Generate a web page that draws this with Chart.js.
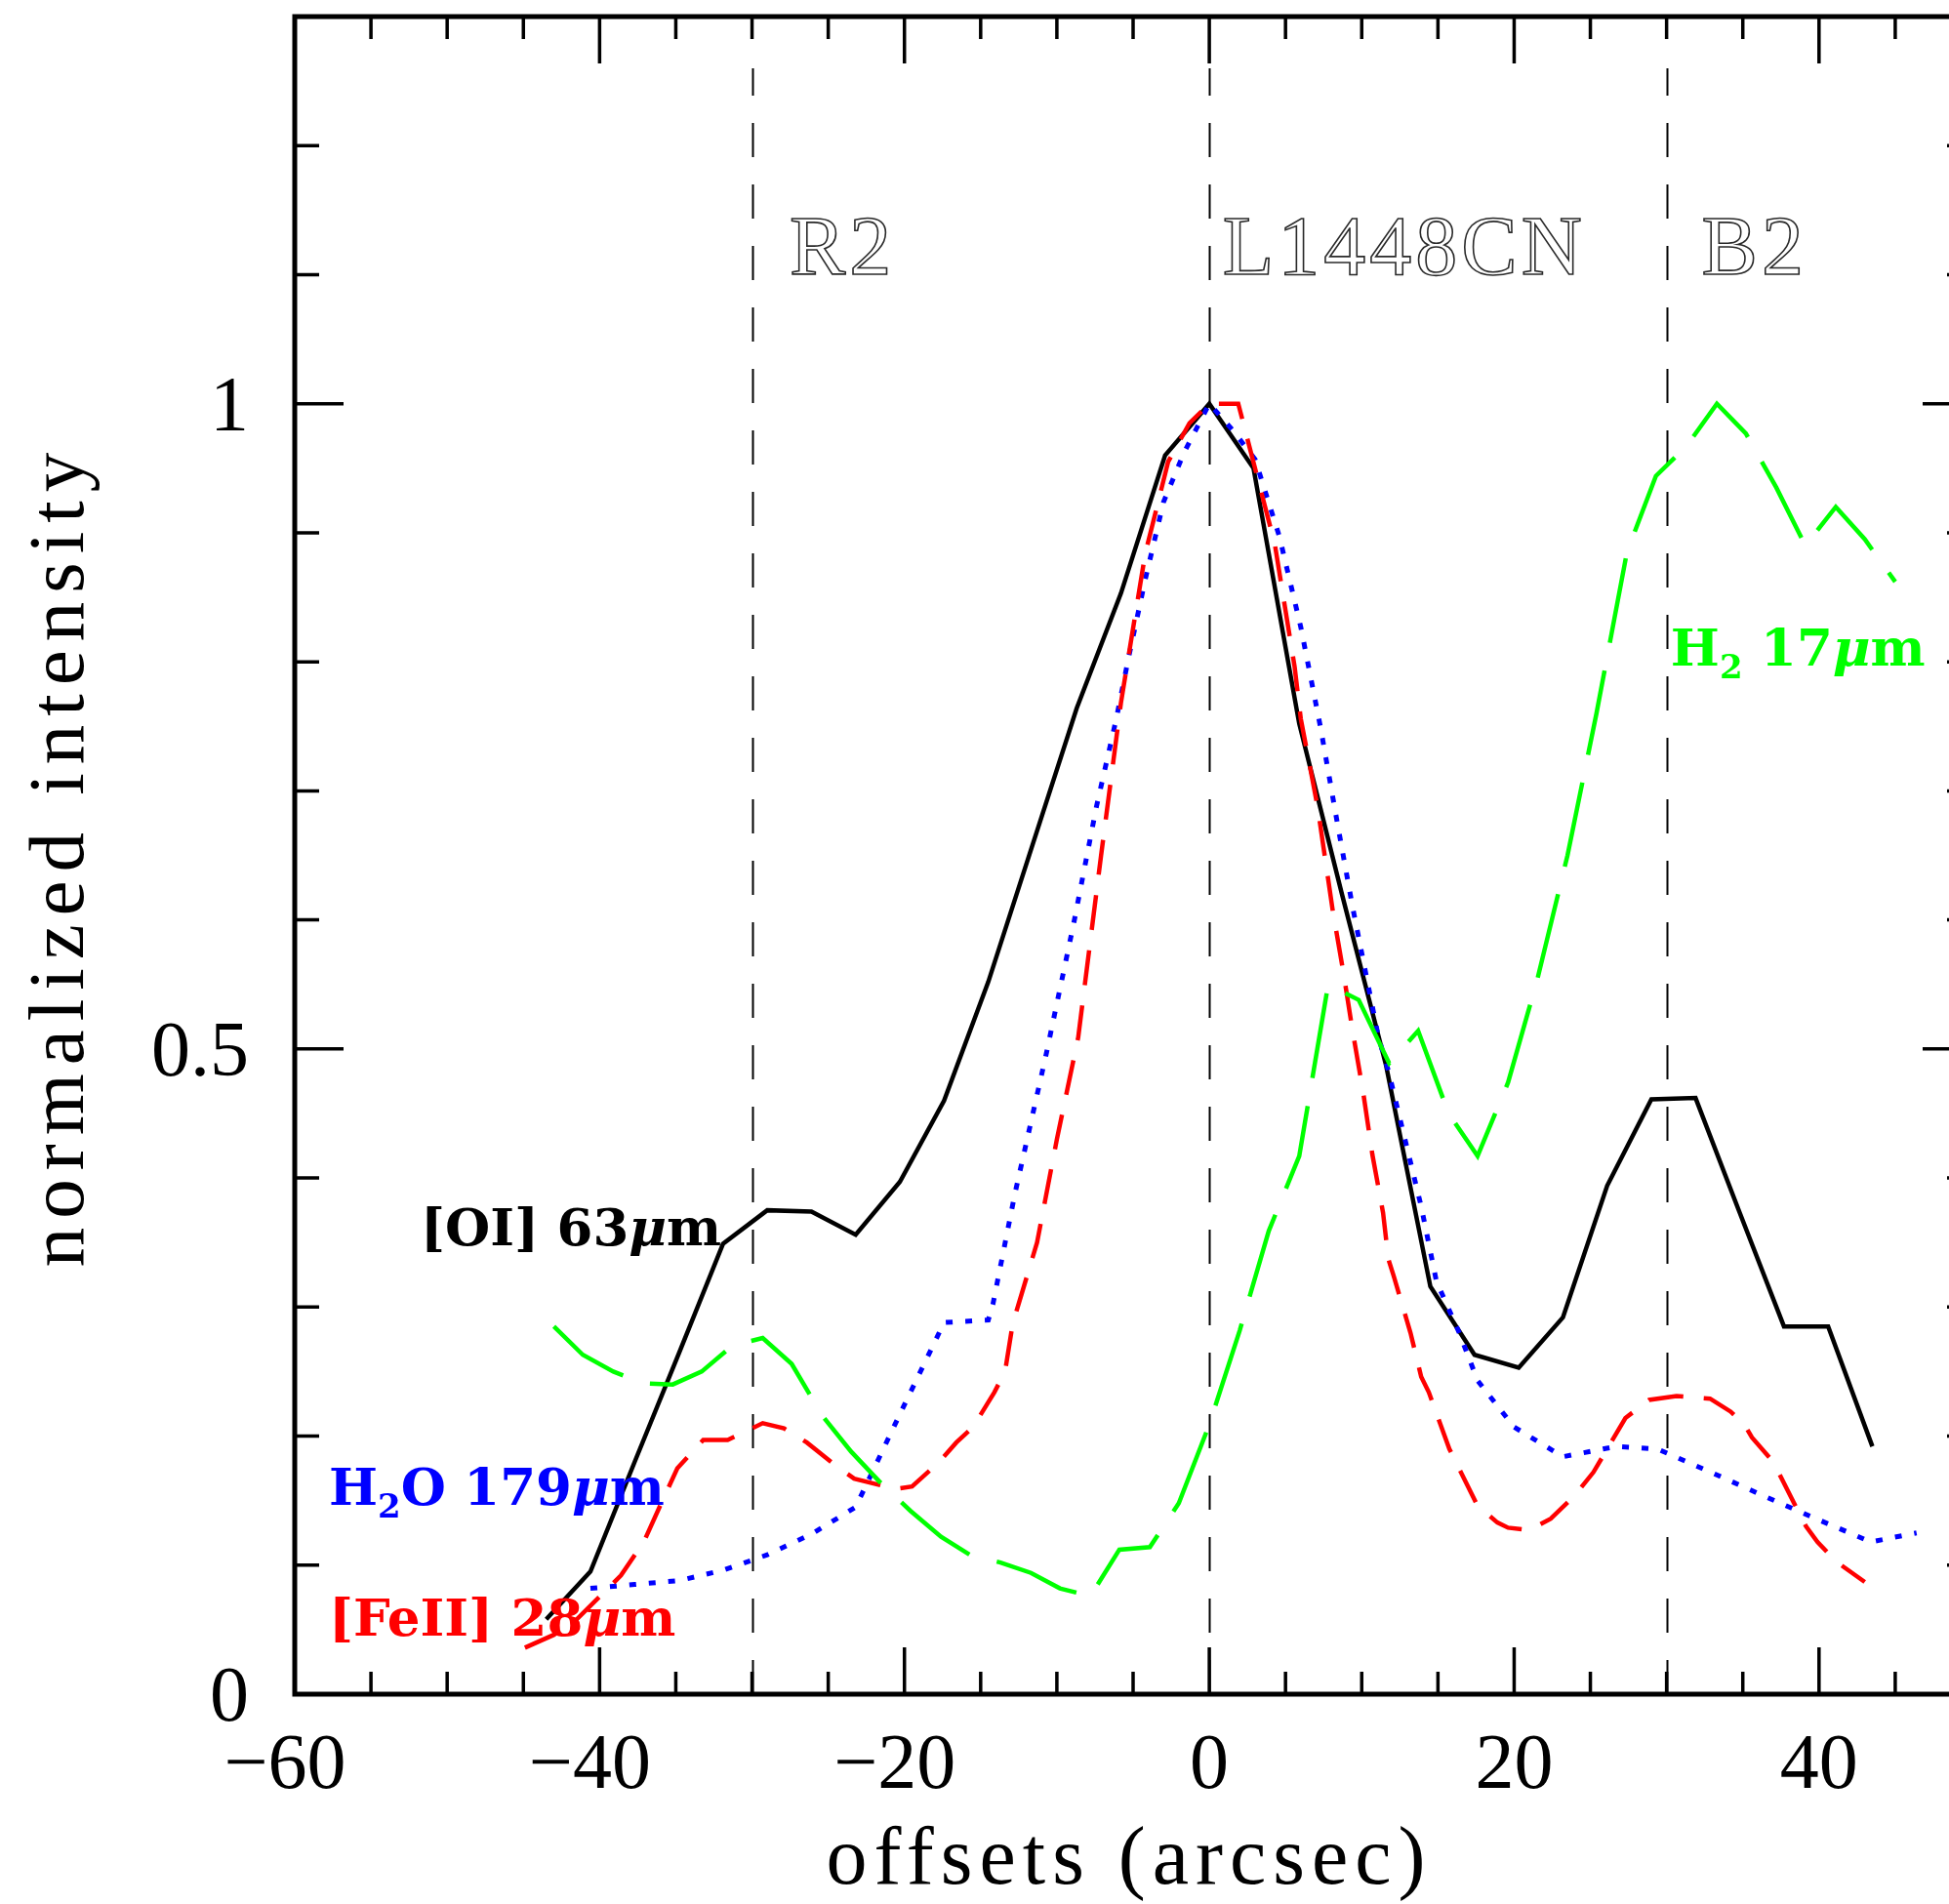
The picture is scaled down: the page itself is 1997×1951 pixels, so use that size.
<!DOCTYPE html>
<html>
<head>
<meta charset="utf-8">
<title>Normalized line intensity along the L1448 outflow</title>
<script src="https://cdn.jsdelivr.net/npm/chart.js@4.4.1/dist/chart.umd.min.js"></script>
<style>
  html, body { margin: 0; padding: 0; background: #fff; overflow: hidden; }
  #wrap { width: 2060px; height: 1951px; }
</style>
</head>
<body>
<div id="wrap"><canvas id="profile" width="2060" height="1951"></canvas></div>
<script>
(function () {
  'use strict';

  // [OI] 63um, solid black
  var oiX = [-43.5, -40.6, -37.7, -34.8, -31.9, -29.0, -26.1, -23.2, -20.3, -17.4, -14.5, -11.6, -8.7, -5.8, -2.9, 0,
             2.9, 5.9, 8.7, 11.6, 14.5, 17.4, 20.3, 23.2, 26.1, 29.0, 31.9, 34.8, 37.7, 40.6, 43.5];
  var oiY = [0.058, 0.095, 0.180, 0.264, 0.349, 0.375, 0.374, 0.356, 0.397, 0.460, 0.552, 0.658, 0.764, 0.853, 0.960, 1.0,
             0.950, 0.752, 0.620, 0.487, 0.316, 0.263, 0.253, 0.292, 0.394, 0.461, 0.462, 0.373, 0.285, 0.285, 0.192];

  // H2O 179um, blue dotted
  var h2oX = [-40.6, -37.7, -34.8, -31.9, -29.0, -26.1, -23.2, -20.3, -17.4, -14.5, -14.2, -12.75, -10.7, -8.9, -7.4,
              -6.1, -5.3, -4.2, -3.0, -1.66, 0, 1.5, 3.0, 4.6, 6.0, 7.3, 8.4, 9.4, 11.1, 11.75, 13.9, 14.9, 16.4,
              17.6, 20.0, 23.2, 26.7, 29.4, 32.9, 36.5, 39.4, 43.4, 46.4];
  var h2oY = [0.082, 0.085, 0.088, 0.096, 0.108, 0.124, 0.145, 0.217, 0.288, 0.290, 0.302, 0.388, 0.496, 0.597, 0.688,
              0.756, 0.803, 0.864, 0.924, 0.962, 1.0, 0.980, 0.957, 0.897, 0.827, 0.749, 0.675, 0.610, 0.509, 0.483, 0.378, 0.320, 0.280,
              0.243, 0.207, 0.184, 0.192, 0.190, 0.172, 0.153, 0.138, 0.118, 0.125];

  // [FeII], red dashed
  var feX = [-44.9, -43.0, -41.5, -38.6, -37.1, -35.8, -34.9, -33.2, -31.6, -29.3, -27.9, -26.4, -24.7, -23.3, -20.6,
             -19.5, -17.8, -16.6, -15.5, -14.1, -13.4, -12.9, -11.3, -10.0, -8.6, -7.1, -5.8, -4.2, -2.7, -1.3, 0,
             1.9, 3.0, 4.3, 5.6, 6.0, 7.1, 8.1, 8.8, 9.4, 10.1, 10.7, 11.4, 11.75, 12.1, 13.2, 13.9, 14.4, 15.75,
             17.6, 18.9, 19.6, 21.0, 22.4, 23.9, 25.2, 26.3, 27.3, 28.85, 30.65, 32.85, 34.2, 35.1, 35.6, 36.85,
             37.3, 38.7, 39.15, 39.9, 41.1, 43.0];
  var feY = [0.036, 0.046, 0.058, 0.092, 0.118, 0.152, 0.175, 0.197, 0.197, 0.210, 0.206, 0.195, 0.179, 0.167, 0.159,
             0.161, 0.179, 0.195, 0.207, 0.234, 0.250, 0.287, 0.350, 0.430, 0.509, 0.650, 0.768, 0.884, 0.955, 0.985, 1.0,
             1.0, 0.950, 0.891, 0.796, 0.756, 0.688, 0.607, 0.559, 0.514, 0.466, 0.418, 0.373, 0.337, 0.324, 0.280, 0.246, 0.234, 0.190,
             0.146, 0.133, 0.129, 0.127, 0.136, 0.153, 0.172, 0.194, 0.214, 0.228, 0.231, 0.229, 0.219, 0.209, 0.199, 0.182,
             0.173, 0.140, 0.130, 0.118, 0.103, 0.087];

  // H2 17um, green long dashes
  var h2X = [-43.0, -41.1, -39.1, -37.2, -35.2, -33.3, -31.3, -29.3, -27.4, -25.4, -23.5, -21.5, -19.6, -17.6, -15.7,
             -13.7, -11.7, -9.8, -7.8, -5.9, -3.9, -2.0, 0.0, 2.0, 3.9, 5.9, 7.8, 9.8, 11.8, 13.7, 15.7, 17.6, 19.6,
             21.5, 23.5, 25.4, 27.4, 29.3, 31.3, 33.3, 35.2, 37.2, 39.1, 41.1, 43.0, 45.0];
  var h2Y = [0.285, 0.263, 0.250, 0.241, 0.240, 0.250, 0.270, 0.276, 0.256, 0.216, 0.188, 0.163, 0.142, 0.122, 0.108,
             0.102, 0.094, 0.082, 0.076, 0.112, 0.114, 0.148, 0.209, 0.282, 0.359, 0.417, 0.550, 0.538, 0.489, 0.514, 0.450, 0.417, 0.474,
             0.553, 0.650, 0.760, 0.885, 0.944, 0.967, 1.0, 0.977, 0.935, 0.890, 0.920, 0.895, 0.862];

  // axes
  var xRange = [-60, 50];
  var yRange = [0, 1.3];
  var xTickValues = [-60, -40, -20, 0, 20, 40];
  var xTickLabels = ['\u221260', '\u221240', '\u221220', '0', '20', '40'];
  var yTickValues = [0, 0.5, 1];
  var yTickLabels = ['0', '0.5', '1'];
  var xMinorStep = 5;
  var yMinorStep = 0.1;

  // knot positions and their names
  var knotX = [-30, 0, 30];
  var knotNames = ['R2', 'L1448CN', 'B2'];
  var knotNameX = [-27.54, 0.88, 32.3];
  var knotNameY = 1.10;

  var LABEL_FONT = '"DejaVu Serif", serif';
  var NUM_FONT = '"Liberation Serif", "DejaVu Serif", serif';

  // curve labels: pieces with style flags (sub = subscript, it = italic)
  var curveLabels = [
    { x: -51.74, y: 0.348, color: '#000000', parts: [{ t: '[OI] 63' }, { t: '\u03bc', it: true }, { t: 'm' }] },
    { x: -57.76, y: 0.1467, color: '#0000ff', parts: [{ t: 'H' }, { t: '2', sub: true }, { t: 'O 179' }, { t: '\u03bc', it: true }, { t: 'm' }] },
    { x: -57.76, y: 0.0454, color: '#ff0000', parts: [{ t: '[FeII] 28' }, { t: '\u03bc', it: true }, { t: 'm' }] },
    { x: 30.27, y: 0.797, color: '#00ff00', parts: [{ t: 'H' }, { t: '2', sub: true }, { t: ' 17' }, { t: '\u03bc', it: true }, { t: 'm' }] }
  ];

  function pts(xs, ys) {
    var out = [];
    for (var i = 0; i < xs.length; i++) out.push({ x: xs[i], y: ys[i] });
    return out;
  }

  function drawRich(ctx, parts, x, y, color) {
    ctx.save();
    ctx.fillStyle = color;
    ctx.textAlign = 'left';
    ctx.textBaseline = 'alphabetic';
    var cx = x;
    parts.forEach(function (p) {
      var size = p.sub ? 34 : 53;
      ctx.font = (p.it ? 'italic ' : '') + 'bold ' + size + 'px ' + LABEL_FONT;
      ctx.fillText(p.t, cx, p.sub ? y + 13 : y);
      cx += ctx.measureText(p.t).width;
    });
    ctx.restore();
  }

  // knot markers: thin dashed verticals, pattern starts at the bottom axis
  var knotLines = {
    id: 'knotLines',
    beforeDatasetsDraw: function (chart) {
      var ctx = chart.ctx;
      var xs = chart.scales.x, ys = chart.scales.y;
      var y0 = ys.getPixelForValue(0), y1 = ys.getPixelForValue(1.26);
      ctx.save();
      ctx.strokeStyle = '#000';
      ctx.lineWidth = 2;
      ctx.setLineDash([35, 28]);
      knotX.forEach(function (v) {
        var px = Math.round(xs.getPixelForValue(v)) + 0.5;
        ctx.beginPath();
        ctx.moveTo(px, y0);
        ctx.lineTo(px, y1);
        ctx.stroke();
      });
      ctx.setLineDash([]);
      ctx.font = '86px ' + NUM_FONT;
      ctx.letterSpacing = '4px';
      ctx.lineWidth = 1.6;
      ctx.strokeStyle = '#2a2a2a';
      knotNames.forEach(function (name, i) {
        ctx.strokeText(name, xs.getPixelForValue(knotNameX[i]), ys.getPixelForValue(knotNameY));
      });
      ctx.restore();
    }
  };

  // box frame with inward ticks, tick labels, titles and curve labels
  var frame = {
    id: 'frame',
    afterDraw: function (chart) {
      var ctx = chart.ctx;
      var xs = chart.scales.x, ys = chart.scales.y;
      var a = chart.chartArea;
      ctx.save();
      ctx.strokeStyle = '#000';
      ctx.lineCap = 'butt';

      // minor + major ticks
      ctx.lineWidth = 3.5;
      var v, px, py, len;
      for (v = xRange[0]; v <= xRange[1] + 1e-9; v += xMinorStep) {
        px = xs.getPixelForValue(v);
        len = (Math.round(v) % 20 === 0) ? 48 : 23;
        ctx.beginPath();
        ctx.moveTo(px, a.bottom); ctx.lineTo(px, a.bottom - len);
        ctx.moveTo(px, a.top); ctx.lineTo(px, a.top + len);
        ctx.stroke();
      }
      for (var k = 0; k <= Math.round((yRange[1] - yRange[0]) / yMinorStep); k++) {
        v = yRange[0] + k * yMinorStep;
        py = ys.getPixelForValue(v);
        len = (k % 5 === 0) ? 50 : 25;
        ctx.beginPath();
        ctx.moveTo(a.left, py); ctx.lineTo(a.left + len, py);
        ctx.moveTo(a.right, py); ctx.lineTo(a.right - len, py);
        ctx.stroke();
      }

      // frame
      ctx.lineWidth = 5;
      ctx.strokeRect(a.left, a.top, a.right - a.left, a.bottom - a.top);

      // tick labels
      ctx.fillStyle = '#000';
      ctx.font = '80px ' + NUM_FONT;
      ctx.textBaseline = 'alphabetic';
      ctx.textAlign = 'center';
      xTickValues.forEach(function (t, i) {
        var off = xTickLabels[i].charAt(0) === '\u2212' ? -10 : 0;
        ctx.fillText(xTickLabels[i], xs.getPixelForValue(t) + off, a.bottom + 96);
      });
      ctx.textAlign = 'right';
      yTickValues.forEach(function (t, i) {
        ctx.fillText(yTickLabels[i], a.left - 47, ys.getPixelForValue(t) + 27);
      });

      // axis titles
      ctx.textAlign = 'center';
      ctx.font = '84px ' + NUM_FONT;
      ctx.letterSpacing = '7px';
      ctx.fillText('offsets (arcsec)', (a.left + a.right) / 2 - 4, a.bottom + 194);
      ctx.save();
      ctx.translate(85, (a.top + a.bottom) / 2);
      ctx.rotate(-Math.PI / 2);
      ctx.font = '81px ' + NUM_FONT;
      ctx.letterSpacing = '9px';
      ctx.fillText('normalized intensity', 0, 0);
      ctx.restore();
      ctx.letterSpacing = '0px';

      curveLabels.forEach(function (l) {
        drawRich(ctx, l.parts, xs.getPixelForValue(l.x), ys.getPixelForValue(l.y), l.color);
      });
      ctx.restore();
    }
  };

  function series(label, xs, ys, color, width, dash) {
    return {
      label: label,
      data: pts(xs, ys),
      borderColor: color,
      borderWidth: width,
      borderDash: dash,
      borderCapStyle: 'butt',
      borderJoinStyle: 'miter',
      pointRadius: 0,
      tension: 0,
      fill: false
    };
  }

  new Chart(document.getElementById('profile'), {
    type: 'line',
    data: {
      datasets: [
        series('H2 17um', h2X, h2Y, '#00ff00', 4.5, [88, 29]),
        series('[FeII]', feX, feY, '#ff0000', 4.5, [36, 21]),
        series('H2O 179um', h2oX, h2oY, '#0000ff', 5, [7, 13]),
        series('[OI] 63um', oiX, oiY, '#000000', 4.5, [])
      ]
    },
    options: {
      responsive: false,
      devicePixelRatio: 1,
      animation: false,
      events: [],
      layout: { padding: { left: 302, top: 17, right: 40, bottom: 215 } },
      plugins: { legend: { display: false }, tooltip: { enabled: false } },
      scales: {
        x: { type: 'linear', min: xRange[0], max: xRange[1], display: false },
        y: { type: 'linear', min: yRange[0], max: yRange[1], display: false }
      }
    },
    plugins: [knotLines, frame]
  });
})();
</script>
</body>
</html>
